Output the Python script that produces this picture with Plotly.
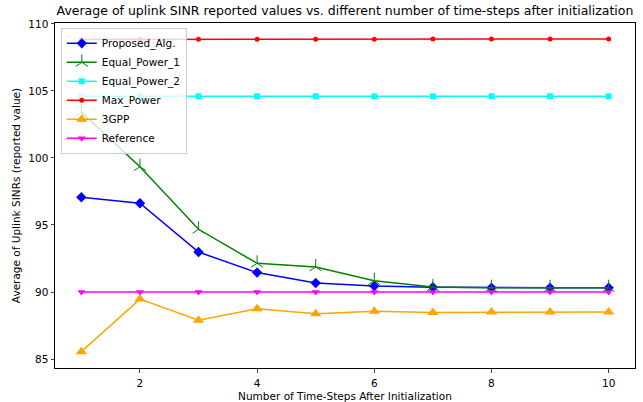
import plotly.graph_objects as go

steps = [1, 2, 3, 4, 5, 6, 7, 8, 9, 10]
proposed = [97.07, 96.62, 92.98, 91.45, 90.67, 90.45, 90.35, 90.32, 90.32, 90.32]
equal_power_1 = [103.4, 99.35, 94.68, 92.14, 91.87, 90.84, 90.38, 90.32, 90.32, 90.32]
equal_power_2 = [104.6, 104.6, 104.6, 104.6, 104.6, 104.6, 104.6, 104.6, 104.6, 104.6]
max_power = [108.84, 108.84, 108.85, 108.85, 108.86, 108.86, 108.87, 108.87, 108.88, 108.88]
gpp3 = [85.55, 89.47, 87.9, 88.75, 88.38, 88.56, 88.48, 88.5, 88.5, 88.5]
reference = [90.0] * 10

x_ticks = [2, 4, 6, 8, 10]
y_ticks = [85, 90, 95, 100, 105, 110]

series = [
    ("Proposed_Alg.", proposed, "blue", "diamond", 8),
    ("Equal_Power_1", equal_power_1, "green", "y-up-open", 10),
    ("Equal_Power_2", equal_power_2, "cyan", "square", 6),
    ("Max_Power", max_power, "red", "circle", 5),
    ("3GPP", gpp3, "orange", "triangle-up", 10),
    ("Reference", reference, "magenta", "triangle-down", 7),
]

fig = go.Figure()
for name, vals, col, sym, sz in series:
    marker = dict(symbol=sym, size=sz, color=col)
    if sym.startswith("y-"):
        marker["line"] = dict(color=col, width=1)
    else:
        marker["line"] = dict(width=0)
    fig.add_trace(go.Scatter(x=steps, y=vals, name=name, mode="lines+markers",
                             line=dict(color=col, width=1.5), marker=marker))

font = "DejaVu Sans"
fs = 10.5
fig.update_layout(
    width=643, height=402, autosize=False,
    margin=dict(l=55, r=8, t=23, b=34),
    paper_bgcolor="white", plot_bgcolor="white",
    font=dict(family=font, size=fs, color="black"),
    title=dict(text="Average of uplink SINR reported values vs. different number of time-steps after initialization",
               x=(55 + 635) / 2 / 643, xanchor="center", y=1 - 11 / 402, yanchor="middle",
               yref="container", font=dict(size=12.5, family=font, color="black")),
    legend=dict(x=0.01, y=0.986, xanchor="left", yanchor="top",
                bgcolor="rgba(255,255,255,0.8)", bordercolor="#cccccc", borderwidth=1,
                font=dict(size=fs, family=font), tracegroupgap=0, itemwidth=30),
    showlegend=True,
)
fig.update_xaxes(range=[0.55, 10.45], tickvals=x_ticks, ticks="outside", ticklen=3.5,
                 showline=True, linecolor="black", linewidth=1, mirror=True, showgrid=False,
                 zeroline=False, ticklabelstandoff=2, automargin=False,
                 title=dict(text="Number of Time-Steps After Initialization", standoff=6,
                            font=dict(size=fs, family=font)),
                 tickfont=dict(size=fs))
fig.update_yaxes(range=[84.33, 110.07], tickvals=y_ticks, ticks="outside", ticklen=3.5,
                 showline=True, linecolor="black", linewidth=1, mirror=True, showgrid=False,
                 zeroline=False, automargin=False,
                 title=dict(text="Average of Uplink SINRs (reported value)", standoff=5,
                            font=dict(size=fs, family=font)),
                 tickfont=dict(size=fs))

fig.write_html("out.html")
